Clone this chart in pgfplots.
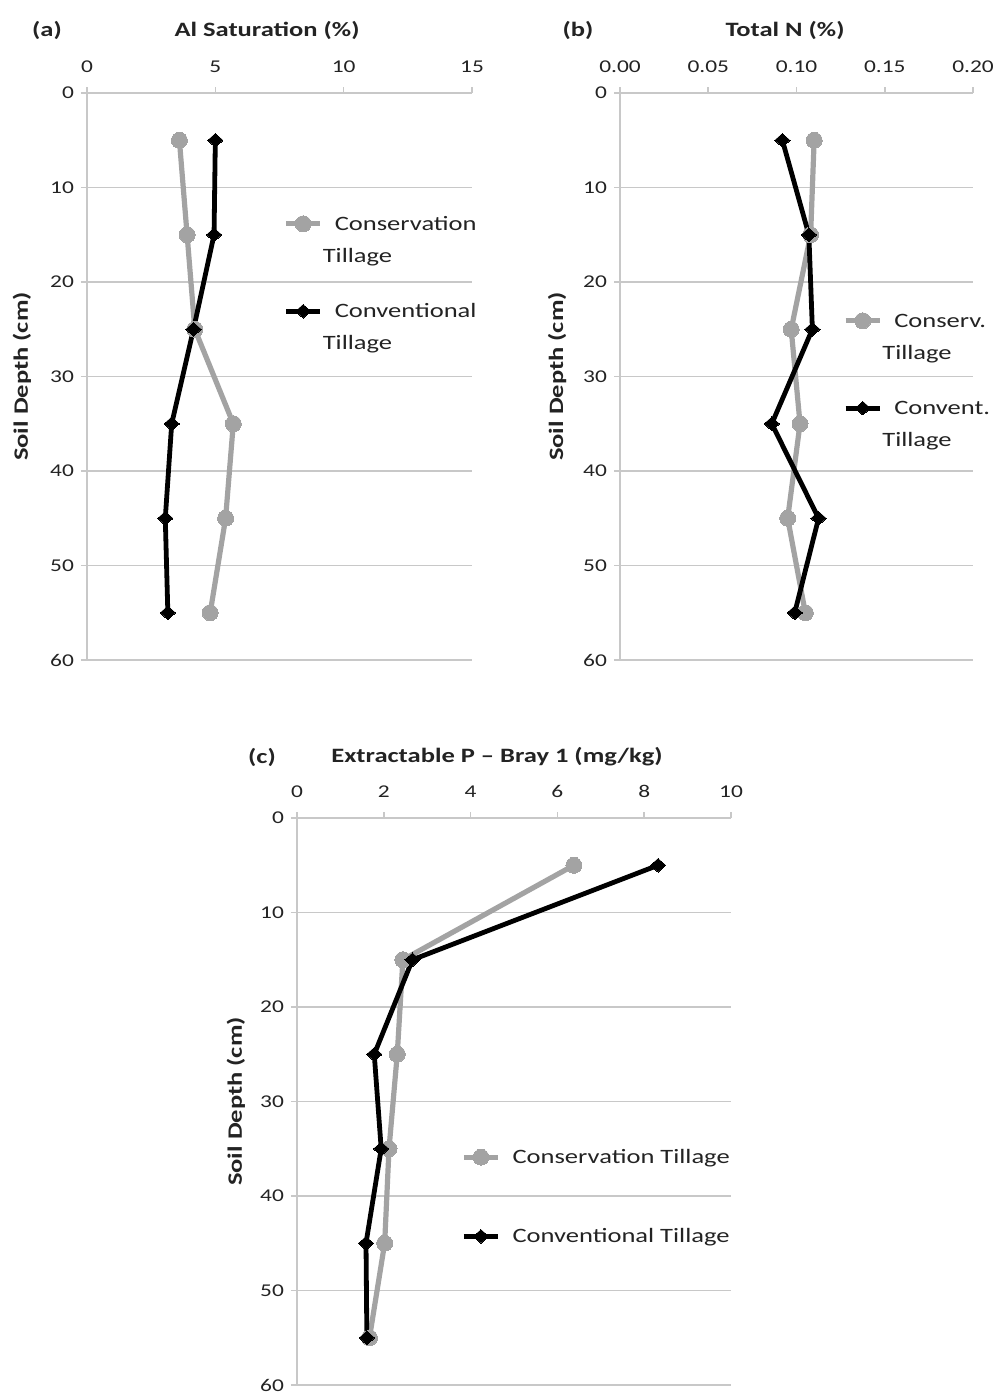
\documentclass[border=0pt]{standalone}
\usepackage{fontspec}
\setmainfont{Carlito}[FakeStretch=1.3]
\usepackage{pgfplots}
\pgfplotsset{compat=1.18}
\definecolor{consgray}{RGB}{163,163,163}
\definecolor{gridgray}{RGB}{200,200,200}
\definecolor{txt}{RGB}{35,35,35}
% two-line legend entry, baseline on the first line
\newcommand{\twoline}[2]{\begin{tabular}[t]{@{}l@{}}#1\\\hspace*{-6pt}#2\end{tabular}}

\pgfplotsset{
  depth/.style={
    scale only axis, height=283.5pt, anchor=south west,
    y dir=reverse, ymin=0, ymax=60, ytick={0,10,...,60},
    axis x line=top, axis y line=left,
    axis line style={gridgray, line width=0.8pt, -},
    tick style={gridgray, line width=0.8pt}, tick align=outside,
    major tick length=3pt,
    ymajorgrids, grid style={gridgray, line width=0.8pt},
    tick label style={font=\fontsize{9}{11}\selectfont, text=txt},
    xticklabel style={yshift=3.5pt},
    /pgf/number format/assume math mode=true,
    ylabel={Soil Depth (cm)},
    ylabel style={font=\bfseries\fontsize{10.2}{12}\selectfont, text=txt, anchor=center},
    clip=false,
    legend image code/.code={
      \draw[mark repeat=2, mark phase=2, #1] plot coordinates {(0pt,3.3pt) (8.5pt,3.3pt) (17pt,3.3pt)};
      \path (21pt,3.3pt);
    },
    legend style={draw=none, fill=none, anchor=north west,
      font=\fontsize{10.2}{16}\selectfont, text=txt,
      cells={anchor=base west}},
  },
  cons/.style={consgray, line width=2.6pt, mark=*, mark size=4pt,
    mark options={solid, fill=consgray, draw=consgray, line width=0pt}},
  conv/.style={black, line width=2.4pt, mark=diamond*, mark size=3.4pt,
    mark options={solid, fill=black, line width=0pt, xscale=1.5}},
}

\begin{document}
\begin{tikzpicture}
\path[use as bounding box] (0,0) rectangle (498pt,699.5pt);

% (a) Al saturation
\begin{axis}[depth, at={(43.5pt,369.5pt)}, width=192.5pt,
  xmin=0, xmax=15, xtick={0,5,10,15},
  ylabel style={at={(axis description cs:-0.169,0.5)}},
  legend style={at={(axis description cs:0.494,0.812)}, row sep=27pt}]
\addplot[cons] coordinates {(3.6,5) (3.9,15) (4.2,25) (5.7,35) (5.4,45) (4.8,55)};
\addlegendentry{\twoline{Conservation}{Tillage}}
\addplot[conv] coordinates {(5.0,5) (4.95,15) (4.15,25) (3.3,35) (3.05,45) (3.15,55)};
\addlegendentry{\twoline{Conventional}{Tillage}}
\end{axis}

% (b) Total N
\begin{axis}[depth, at={(310pt,369.5pt)}, width=176.5pt,
  xmin=0, xmax=0.2, xtick={0,0.05,0.1,0.15,0.2},
  xticklabel style={/pgf/number format/.cd, fixed, fixed zerofill, precision=2},
  scaled x ticks=false,
  ylabel style={at={(axis description cs:-0.178,0.5)}},
  legend style={at={(axis description cs:0.614,0.641)}, row sep=27pt}]
\addplot[cons] coordinates {(0.110,5) (0.108,15) (0.097,25) (0.102,35) (0.095,45) (0.105,55)};
\addlegendentry{\twoline{Conserv.}{Tillage}}
\addplot[conv] coordinates {(0.092,5) (0.107,15) (0.109,25) (0.086,35) (0.1125,45) (0.099,55)};
\addlegendentry{\twoline{Convent.}{Tillage}}
\end{axis}

% (c) Extractable P
\begin{axis}[depth, at={(148.5pt,7pt)}, width=217pt,
  xmin=0, xmax=10, xtick={0,2,...,10},
  ylabel style={at={(axis description cs:-0.141,0.5)}},
  legend style={at={(axis description cs:0.364,0.43)}, row sep=27pt}]
\addplot[cons] coordinates {(6.38,5) (2.44,15) (2.31,25) (2.12,35) (2.02,45) (1.67,55)};
\addlegendentry{Conservation Tillage}
\addplot[conv] coordinates {(8.32,5) (2.66,15) (1.78,25) (1.94,35) (1.59,45) (1.61,55)};
\addlegendentry{Conventional Tillage}
\end{axis}

% panel letters and titles
\begin{scope}[every node/.style={font=\bfseries\fontsize{10.2}{12}\selectfont, text=txt}]
\node at (23.5pt,684.5pt) {(a)};
\node at (133.5pt,684.5pt) {Al Saturation (\%)};
\node at (289pt,684.5pt) {(b)};
\node at (392.5pt,684.5pt) {Total N (\%)};
\node at (131pt,321pt) {(c)};
\node at (248.5pt,321pt) {Extractable P -- Bray 1 (mg/kg)};
\end{scope}
\end{tikzpicture}
\end{document}
